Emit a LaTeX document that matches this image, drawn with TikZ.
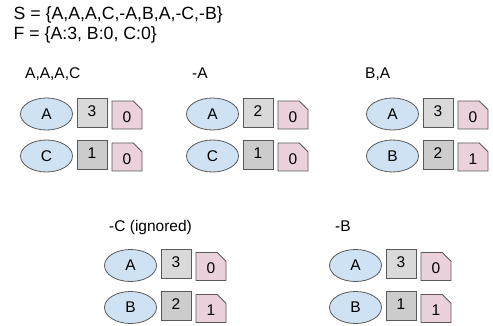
\documentclass[tikz,border=0pt]{standalone}
\usepackage{fontspec}
\setmainfont{Liberation Sans}
\usetikzlibrary{shapes.geometric,shapes.misc}
\definecolor{eblue}{HTML}{CFE2F3}
\definecolor{glight}{HTML}{D9D9D9}
\definecolor{gdark}{HTML}{CCCCCC}
\definecolor{pinkf}{HTML}{EAD1DC}
\definecolor{edgec}{HTML}{595959}
\newcommand\grp[9]{%
  \node[keyn] (#1k1) at ({#2+25.5},{#3}) {#4};
  \node[cnt] (#1c1) at ({#2+71},{#3-1.5}) {#5};
  \node[errn] (#1e1) at ({#2+106},{#3+1}) {#6};
  \node[keyn] (#1k2) at ({#2+25.5},{#3+42}) {#7};
  \node[cntd] (#1c2) at ({#2+71},{#3+40.5}) {#8};
  \node[errn] (#1e2) at ({#2+106},{#3+43}) {#9};
}
\begin{document}
\begin{tikzpicture}[x=1pt,y=-1pt,
  nfont/.style={font=\fontsize{15.5}{18}\selectfont},
  keyn/.style={ellipse, draw=edgec, fill=eblue, minimum width=52pt, minimum height=32pt, inner sep=0pt, line width=0.8pt, nfont},
  cnt/.style={rectangle, draw=edgec, fill=glight, minimum width=30pt, minimum height=29pt, inner sep=0pt, line width=0.8pt, nfont, text height=11.1pt, text depth=3.4pt},
  cntd/.style={cnt, fill=gdark},
  errn/.style={chamfered rectangle, chamfered rectangle corners=north east, chamfered rectangle sep=4.5pt, draw=edgec, fill=pinkf, minimum width=30pt, minimum height=28pt, inner sep=0pt, line width=0.8pt, nfont, text height=14.1pt, text depth=0pt},
  lbl/.style={anchor=base west, inner sep=0pt, font=\fontsize{15.5}{18}\selectfont},
  ttl/.style={anchor=base west, inner sep=0pt, font=\fontsize{17.7}{20}\selectfont}]
\useasboundingbox (0,0) rectangle (493,326);
\node[ttl] (s) at (13.5,20) {S = \{A,A,A,C,-A,B,A,-C,-B\}};
\node[ttl] (f) at (13.5,39.5) {F = \{A:3, B:0, C:0\}};
\node[lbl] (l1) at (25,79) {A,A,A,C};
\node[lbl] (l2) at (192,79) {-A};
\node[lbl] (l3) at (365,79) {B,A};
\node[lbl] (l4) at (109,231) {-C (ignored)};
\node[lbl] (l5) at (335,231) {-B};
\grp{a}{21}{114}{A}{3}{0}{C}{1}{0}
\grp{b}{187}{114}{A}{2}{0}{C}{1}{0}
\grp{c}{367}{114}{A}{3}{0}{B}{2}{1}
\grp{d}{105}{265.5}{A}{3}{0}{B}{2}{1}
\grp{e}{330}{265.5}{A}{3}{0}{B}{1}{1}
\end{tikzpicture}
\end{document}
